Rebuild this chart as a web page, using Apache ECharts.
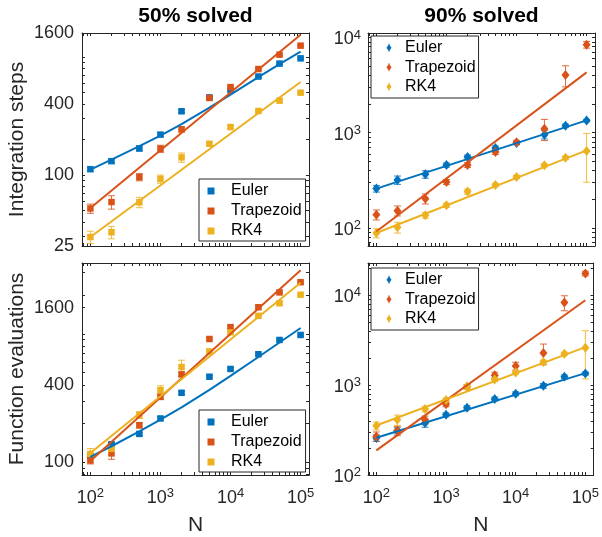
<!DOCTYPE html>
<html>
<head>
<meta charset="utf-8">
<script src="https://cdn.jsdelivr.net/npm/echarts@6/dist/echarts.min.js"></script>
<style>
  html, body { margin: 0; padding: 0; background: #fff; }
  #chart { width: 602px; height: 537px; }
</style>
</head>
<body>
<div id="chart"></div>
<script>
// Problem sizes N (x axis of every panel)
const N = [100, 200, 500, 1000, 2000, 5000, 10000, 25000, 50000, 100000];
// x positions of the two ends of the straight power-law fits
const fitEnds = [100, 100000];
const curveN = N;

// ---- 50% solved: integration steps ----
const steps50Euler = [112, 131, 168, 220, 347, 455, 525, 684, 880, 975];
const steps50Trap  = [52, 59, 96, 167, 244, 450, 557, 792, 1048, 1250];
const steps50RK4   = [29.8, 32.7, 58.7, 92.5, 141, 184, 255, 349, 427, 499];
const steps50EulerErr = [0.04, 0.04, 0.05, 0.04, 0.03, 0.03, 0.03, 0.02, 0.02, 0.02];
const steps50TrapErr  = [0.09, 0.13, 0.07, 0.07, 0.05, 0.03, 0.03, 0.02, 0.02, 0.02];
const steps50RK4Err   = [0.12, 0.12, 0.10, 0.08, 0.09, 0.03, 0.03, 0.02, 0.02, 0.02];
const steps50EulerFit = [111, 135, 176, 216, 270, 372, 480, 675, 870, 1110];
const steps50TrapFit  = [52.5, 1549];
const steps50RK4Fit   = [29.8, 615];

// ---- 50% solved: function evaluations ----
const evals50Euler = [112, 138, 166, 219, 347, 463, 532, 693, 895, 979];
const evals50Trap  = [103, 117, 194, 323, 483, 911, 1127, 1610, 2101, 2523];
const evals50RK4   = [116, 127, 233, 364, 551, 728, 1026, 1380, 1729, 2017];
const evals50EulerErr = [0.03, 0.03, 0.03, 0.03, 0.03, 0.02, 0.02, 0.02, 0.02, 0.02];
const evals50TrapErr  = [0.06, 0.10, 0.05, 0.05, 0.04, 0.03, 0.03, 0.02, 0.02, 0.02];
const evals50RK4Err   = [0.10, 0.10, 0.06, 0.08, 0.13, 0.04, 0.03, 0.02, 0.02, 0.02];
const evals50EulerFit = [110, 133, 174, 214, 267, 366, 470, 660, 855, 1109];
const evals50TrapFit  = [102, 3128];
const evals50RK4Fit   = [118, 2495];

// ---- 90% solved: integration steps ----
const steps90Euler = [259, 319, 366, 458, 556, 692, 780, 955, 1186, 1340];
const steps90Trap  = [138, 152, 203, 304, 458, 628, 793, 1104, 4036, 8400];
const steps90RK4   = [88.6, 101.6, 136, 173, 241, 283, 343, 455, 547, 643];
const steps90EulerErr = [0.08, 0.10, 0.09, 0.05, 0.05, 0.05, 0.04, 0.10, 0.04, 0.03];
const steps90TrapErr  = [0.12, 0.12, 0.12, 0.06, 0.06, 0.06, 0.05, 0.25, 0.25, 0.08];
const steps90RK4Err   = [0.11, 0.13, 0.07, 0.05, 0.06, 0.04, 0.04, 0.04, 0.04, 0.53];
const steps90EulerFit = [259, 1349];
const steps90TrapFit  = [92, 4305];
const steps90RK4Fit   = [88.6, 653];

// ---- 90% solved: function evaluations ----
const evals90Euler = [258, 311, 378, 467, 562, 701, 802, 983, 1236, 1346];
const evals90Trap  = [269, 311, 411, 612, 959, 1289, 1634, 2274, 8300, 17500];
const evals90RK4   = [353, 411, 543, 683, 959, 1155, 1379, 1808, 2236, 2603];
const evals90EulerErr = [0.08, 0.08, 0.10, 0.05, 0.05, 0.05, 0.05, 0.06, 0.05, 0.04];
const evals90TrapErr  = [0.12, 0.12, 0.10, 0.06, 0.05, 0.08, 0.10, 0.26, 0.19, 0.06];
const evals90RK4Err   = [0.10, 0.13, 0.07, 0.05, 0.06, 0.05, 0.04, 0.05, 0.04, 0.55];
const evals90EulerFit = [260, 1360];
const evals90TrapFit  = [188, 8800];
const evals90RK4Fit   = [355, 2650];

// Tick labels
const xMajor = [100, 1000, 10000, 100000];
const yMajor50Steps = [25, 100, 400, 1600];
const yMajor50Evals = [100, 400, 1600];
const yMajor90 = [100, 1000, 10000];

const methods = ['Euler', 'Trapezoid', 'RK4'];
const colors = ['#0072BD', '#D95319', '#EDB120'];
const AX = '#262626';
const FONT = "'Liberation Sans', Arial, Helvetica, sans-serif";
// legend glyph for the error-bar series: small diamond with stubs above and below
const ERRBAR_ICON = 'path://M2,0 H3 V1 L5,4 L3,7 V8 H2 V7 L0,4 L2,1 Z';

// minor ticks at d*10^k inside [lo, hi]
function logMinor(lo, hi) {
  const out = [];
  for (let k = 0; k <= 6; k++) {
    for (let d = 1; d <= 9; d++) {
      const v = d * Math.pow(10, k);
      if (v >= lo && v <= hi) out.push(v);
    }
  }
  return out;
}

const xMin = 75.9, xMax = 131800;

const panels = [
  { grid: { left: 82, top: 33, width: 227, height: 213 }, yMin: 25, yMax: 1600,
    yMajor: yMajor50Steps, sup: false, xLabels: false, yName: 'Integration steps',
    symbol: 'rect', size: 6.5,
    vals: [steps50Euler, steps50Trap, steps50RK4],
    errs: [steps50EulerErr, steps50TrapErr, steps50RK4Err],
    fits: [[curveN, steps50EulerFit], [fitEnds, steps50TrapFit], [fitEnds, steps50RK4Fit]],
    legend: { left: 199, top: 179 } },
  { grid: { left: 368, top: 33, width: 227, height: 213 }, yMin: 64.7, yMax: 11140,
    yMajor: yMajor90, sup: true, xLabels: false, yName: '',
    symbol: 'diamond', size: [8, 10],
    vals: [steps90Euler, steps90Trap, steps90RK4],
    errs: [steps90EulerErr, steps90TrapErr, steps90RK4Err],
    fits: [[fitEnds, steps90EulerFit], [fitEnds, steps90TrapFit], [fitEnds, steps90RK4Fit]],
    legend: { left: 371, top: 36 } },
  { grid: { left: 82, top: 263, width: 227, height: 214 }, yMin: 79.4, yMax: 3561,
    yMajor: yMajor50Evals, sup: false, xLabels: true, yName: 'Function evaluations',
    symbol: 'rect', size: 6.5,
    vals: [evals50Euler, evals50Trap, evals50RK4],
    errs: [evals50EulerErr, evals50TrapErr, evals50RK4Err],
    fits: [[curveN, evals50EulerFit], [fitEnds, evals50TrapFit], [fitEnds, evals50RK4Fit]],
    legend: { left: 199, top: 410 } },
  { grid: { left: 368, top: 263, width: 227, height: 214 }, yMin: 100, yMax: 22870,
    yMajor: yMajor90, sup: true, xLabels: true, yName: '',
    symbol: 'diamond', size: [8, 10],
    vals: [evals90Euler, evals90Trap, evals90RK4],
    errs: [evals90EulerErr, evals90TrapErr, evals90RK4Err],
    fits: [[fitEnds, evals90EulerFit], [fitEnds, evals90TrapFit], [fitEnds, evals90RK4Fit]],
    legend: { left: 371, top: 268 } }
];

const supRich = {
  b: { fontSize: 18, fontFamily: FONT, color: AX, lineHeight: 18, padding: [4, 0, 0, 0] },
  s: { fontSize: 13, fontFamily: FONT, color: AX, lineHeight: 13, verticalAlign: 'top' }
};
const supFmt = v => '{b|10}{s|' + Math.round(Math.log10(v)) + '}';

const grids = [], xAxes = [], yAxes = [], series = [], legends = [];

panels.forEach((p, gi) => {
  grids.push(p.grid);
  const xTicks = logMinor(xMin, xMax);
  const yTicks = p.yMajor.concat(logMinor(p.yMin, p.yMax));
  const common = {
    gridIndex: gi, type: 'log', logBase: 10,
    splitLine: { show: false }, minorTick: { show: false }, minorSplitLine: { show: false },
    axisLine: { show: true, onZero: false, lineStyle: { color: AX, width: 1 } }
  };
  const xBase = Object.assign({}, common, {
    min: xMin, max: xMax,
    axisTick: { show: true, inside: true, length: 3, lineStyle: { color: AX, width: 1 }, customValues: xTicks }
  });
  xAxes.push(Object.assign({}, xBase, {
    position: 'bottom',
    axisLabel: { show: p.xLabels, customValues: xMajor, formatter: supFmt, rich: supRich, margin: 12 },
    name: p.xLabels ? 'N' : '', nameLocation: 'middle', nameGap: 40,
    nameTextStyle: { fontSize: 21, fontFamily: FONT, color: AX }
  }));
  xAxes.push(Object.assign({}, xBase, { position: 'top', axisLabel: { show: false } }));

  const yBase = Object.assign({}, common, {
    min: p.yMin, max: p.yMax,
    axisTick: { show: true, inside: true, length: 3, lineStyle: { color: AX, width: 1 }, customValues: yTicks }
  });
  yAxes.push(Object.assign({}, yBase, {
    position: 'left',
    axisLabel: p.sup
      ? { show: true, customValues: p.yMajor, formatter: supFmt, rich: supRich, margin: 7 }
      : { show: true, customValues: p.yMajor, formatter: v => String(Math.round(v)),
          fontSize: 18, fontFamily: FONT, color: AX, margin: 8 },
    name: p.yName, nameLocation: 'middle', nameGap: 54,
    nameTextStyle: { fontSize: 21, fontFamily: FONT, color: AX }
  }));
  yAxes.push(Object.assign({}, yBase, { position: 'right', axisLabel: { show: false } }));

  const ax = { xAxisIndex: 2 * gi, yAxisIndex: 2 * gi };

  methods.forEach((m, si) => {
    const vals = p.vals[si], errs = p.errs[si], col = colors[si];
    // error bars with caps
    series.push(Object.assign({
      type: 'custom', silent: true, z: 2,
      data: N.map((n, i) => [n, vals[i] * (1 - errs[i]), vals[i] * (1 + errs[i])]),
      encode: { x: 0, y: [1, 2] },
      renderItem(params, api) {
        const lo = api.coord([api.value(0), api.value(1)]);
        const hi = api.coord([api.value(0), api.value(2)]);
        const w = 3.5;
        const style = { stroke: col, lineWidth: 1, fill: null, opacity: 0.85 };
        return { type: 'group', children: [
          { type: 'line', shape: { x1: lo[0], y1: lo[1], x2: hi[0], y2: hi[1] }, style },
          { type: 'line', shape: { x1: lo[0] - w, y1: lo[1], x2: lo[0] + w, y2: lo[1] }, style },
          { type: 'line', shape: { x1: hi[0] - w, y1: hi[1], x2: hi[0] + w, y2: hi[1] }, style }
        ] };
      }
    }, ax));
    // measured points
    series.push(Object.assign({
      type: 'scatter', name: m, symbol: p.symbol, symbolSize: p.size, z: 3,
      itemStyle: { color: col, opacity: 1 },
      data: N.map((n, i) => [n, vals[i]])
    }, ax));
  });
  methods.forEach((m, si) => {
    const [fx, fy] = p.fits[si];
    series.push(Object.assign({
      type: 'line', name: m + ' fit', showSymbol: false, symbol: 'none', z: 4, silent: true,
      smooth: false,
      lineStyle: { color: colors[si], width: 2 },
      data: fx.map((x, i) => [x, fy[i]])
    }, ax));
  });

  const right = p.symbol === 'diamond';
  legends.push({
    left: p.legend.left, top: p.legend.top, orient: 'vertical',
    selectedMode: false,
    backgroundColor: '#fff', borderColor: AX, borderWidth: 1, borderRadius: 0,
    padding: right ? [2, 3, 1.5, 15.5] : [2, 4, 0, 8.5],
    itemGap: 0,
    itemWidth: right ? 5 : 7, itemHeight: right ? 8 : 7,
    textStyle: { fontSize: 16, fontFamily: FONT, color: '#000',
      lineHeight: right ? 19.5 : 20, padding: [0, 0, 0, right ? 8.5 : 11.5] },
    data: methods.map((m, si) => ({ name: m, icon: right ? ERRBAR_ICON : 'rect',
      itemStyle: { color: colors[si] } }))
  });
});

const chart = echarts.init(document.getElementById('chart'), null, { renderer: 'canvas' });
chart.setOption({
  animation: false,
  backgroundColor: '#fff',
  title: [
    { text: '50% solved', left: 195.5, top: 6, textAlign: 'center', padding: 0,
      textStyle: { fontSize: 21, fontWeight: 'bold', color: '#000', fontFamily: FONT } },
    { text: '90% solved', left: 481.5, top: 6, textAlign: 'center', padding: 0,
      textStyle: { fontSize: 21, fontWeight: 'bold', color: '#000', fontFamily: FONT } }
  ],
  grid: grids,
  xAxis: xAxes,
  yAxis: yAxes,
  legend: legends,
  series: series
});
</script>
</body>
</html>
